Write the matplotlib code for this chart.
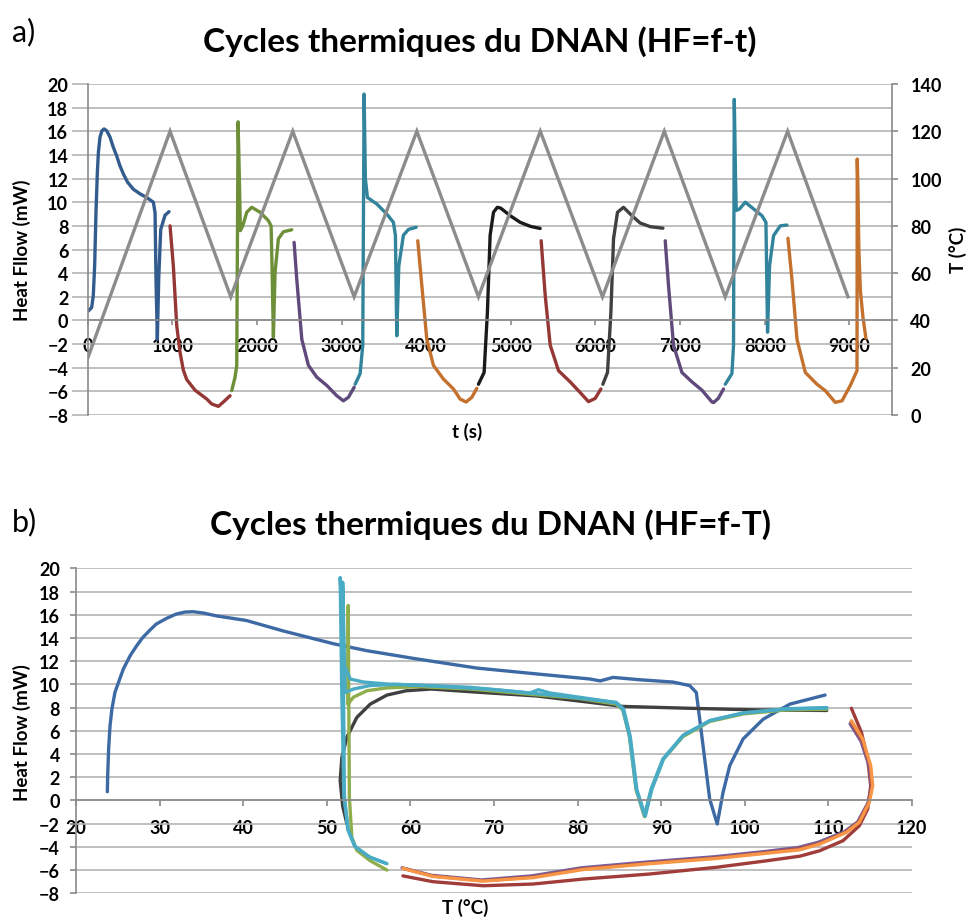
import matplotlib
matplotlib.use("Agg")
import matplotlib.pyplot as plt

plt.rcParams["font.family"] = ["Lato", "DejaVu Sans"]

# ---------------- a) HF = f(t) ----------------
# heating / cooling segments, time in s, heat flow in mW
blue1_t = [7, 47, 66, 82, 98, 114, 126, 145, 169, 193, 224, 264, 300, 343, 380, 421, 470, 539, 620, 697, 776,
           796, 807, 823, 839, 863, 914, 961]
blue1_hf = [0.8, 1.1, 2.1, 4.6, 9.2, 12.5, 14.2, 15.5, 16.05, 16.2, 16.05, 15.5, 14.7, 13.9, 13.1, 12.4, 11.7,
            11.1, 10.7, 10.4, 10.0, 9.1, 3.5, -1.6, 3.5, 7.7, 8.9, 9.2]

red1_t = [973, 1012, 1052, 1091, 1130, 1170, 1268, 1407, 1466, 1544, 1603, 1682]
red1_hf = [8.0, 4.6, -0.45, -2.7, -4.2, -5.0, -5.9, -6.65, -7.07, -7.27, -6.9, -6.37]

green1_t = [1702, 1741, 1761, 1777, 1792, 1804, 1832, 1879, 1938, 2037, 2135, 2167, 2178, 2194, 2214, 2253, 2312, 2411]
green1_hf = [-5.94, -4.8, -3.8, 16.8, 12.0, 7.6, 8.0, 9.15, 9.57, 9.15, 8.44, 8.0, 4.6, -1.4, 4.1, 6.9, 7.5, 7.67]

purple1_t = [2439, 2470, 2530, 2608, 2707, 2825, 2943, 3021, 3081, 3148]
purple1_hf = [6.6, 3.5, -1.6, -3.8, -4.8, -5.5, -6.37, -6.8, -6.5, -5.66]

teal1_t = [3160, 3219, 3250, 3266, 3281, 3305, 3416, 3534, 3612, 3636, 3652, 3676, 3730, 3790, 3881]
teal1_hf = [-5.4, -4.5, -2.1, 19.15, 12.0, 10.4, 9.85, 9.0, 8.3, 7.2, -1.3, 4.6, 7.2, 7.7, 7.88]

orange1_t = [3900, 3948, 4007, 4085, 4203, 4322, 4400, 4471, 4539, 4598]
orange1_hf = [6.74, 2.95, -1.6, -3.8, -4.96, -5.8, -6.65, -6.9, -6.5, -5.74]

black1_t = [4617, 4684, 4723, 4755, 4795, 4840, 4880, 4992, 5110, 5230, 5346]
black1_hf = [-5.4, -4.4, 0.7, 7.2, 9.15, 9.57, 9.5, 8.86, 8.3, 7.96, 7.78]

red2_t = [5358, 5406, 5465, 5563, 5701, 5819, 5917, 5996, 6064]
red2_hf = [6.74, 2.1, -2.1, -4.25, -5.2, -6.1, -6.87, -6.6, -5.8]

gray2_t = [6087, 6142, 6182, 6213, 6260, 6331, 6430, 6528, 6647, 6797]
gray2_hf = [-5.4, -4.4, 0.7, 6.9, 9.15, 9.57, 8.86, 8.24, 7.93, 7.8]

purple2_t = [6824, 6863, 6922, 7021, 7140, 7258, 7376, 7395, 7450, 7513]
purple2_hf = [6.74, 2.94, -2.1, -4.4, -5.2, -5.9, -6.9, -6.95, -6.6, -5.8]

teal2_t = [7533, 7612, 7631, 7640, 7655, 7663, 7702, 7770, 7868, 7967, 8014, 8033, 8057, 8104, 8183, 8262]
teal2_hf = [-5.4, -4.5, -2.1, 18.7, 12.0, 9.3, 9.43, 10.0, 9.43, 8.86, 8.3, -1.0, 4.63, 7.17, 8.0, 8.07]

orange2_t = [8274, 8321, 8381, 8479, 8617, 8715, 8833, 8913, 9011, 9090, 9093, 9100, 9112, 9130, 9160, 9195]
orange2_hf = [6.95, 3.5, -1.6, -4.4, -5.4, -5.94, -6.93, -6.8, -5.5, -4.25, 13.65, 11.5, 6.0, 2.5, 0.3, -1.5]

# programmed temperature (right axis, degC)
temp_t = [0, 973, 1690, 2423, 3148, 3889, 4617, 5348, 6083, 6813, 7533, 8270, 8983]
temp_T = [24, 120, 50, 120, 50, 120, 50, 120, 50, 120, 50, 120, 50]

# ---------------- b) HF = f(T) ----------------
blueb_T = [23.75, 23.79, 23.9, 24.07, 24.3, 24.66, 25.1, 25.66, 26.5, 27.26, 28.0, 28.85, 29.6, 30.84, 32.0, 33.03,
           34.0, 35.2, 36.8, 40.4, 44.8, 50.8, 54.8, 60.7, 68.0, 75.1,
           81.5, 82.7, 84.25, 87.4, 91.4, 93.4, 94.2, 94.8, 95.8, 96.7, 97.4, 98.2, 99.8, 102.2, 105.4, 109.6]
blueb_hf = [0.75, 2.13, 4.4, 6.44, 7.9, 9.31, 10.2, 11.32, 12.5, 13.33, 14.05, 14.68, 15.2, 15.69, 16.06, 16.23,
            16.26, 16.15, 15.9, 15.5, 14.6, 13.5, 12.9, 12.2, 11.4, 10.9,
            10.46, 10.3, 10.6, 10.4, 10.2, 9.9, 9.3, 5.9, 0.12, -2.03, 0.7, 3.0, 5.3, 7.0, 8.3, 9.08]

grayb_T = [52.4, 51.9, 51.6, 51.8, 52.4, 53.6, 55.2, 57.2, 59.5, 62.5, 67.5, 75.1, 81.5, 85.4, 93.4, 101.4, 109.8]
grayb_hf = [-2.0, -0.5, 1.7, 3.7, 5.44, 7.16, 8.3, 9.08, 9.45, 9.6, 9.35, 9.0, 8.45, 8.1, 7.94, 7.8, 7.75]

greenb_T = [57.2, 55.2, 53.6, 53.0, 52.7, 52.56, 52.5, 53.2, 54.8, 57.2, 61.1, 67.1, 74.3, 80.0, 84.6, 85.4, 86.2,
            87.0, 88.0, 88.8, 90.2, 92.6, 95.8, 99.8, 105.0, 109.8]
greenb_hf = [-6.0, -5.2, -4.3, -3.2, 0.27, 16.8, 8.3, 8.9, 9.45, 9.7, 9.8, 9.6, 9.15, 8.8, 8.3, 7.8, 5.5,
             0.9, -1.4, 0.9, 3.5, 5.5, 6.8, 7.45, 7.8, 7.85]

cyan1b_T = [57.2, 55.2, 53.4, 52.6, 52.05, 51.8, 51.6, 52.05, 52.8, 54.4, 57.2, 62.3, 67.1, 74.3, 75.3, 76.7, 83.0,
            84.6, 85.4, 86.2, 87.0, 88.0, 88.8, 90.2, 92.6, 95.8, 99.8, 105.0, 109.8]
cyan1b_hf = [-5.45, -4.9, -4.0, -2.6, 0.27, 8.9, 19.2, 11.75, 10.46, 10.2, 10.03, 9.9, 9.75, 9.26, 9.54, 9.26, 8.6,
             8.4, 7.88, 5.6, 1.0, -1.3, 1.0, 3.57, 5.6, 6.87, 7.53, 7.88, 7.96]

cyan2b_T = [57.0, 55.0, 53.3, 52.5, 52.1, 51.9, 52.2, 53.2, 55.2, 58.4, 63.0, 70.0, 78.0, 84.6, 85.5, 86.3, 87.1,
            88.1, 88.9, 90.3, 92.7, 95.9, 99.9, 105.0, 109.8]
cyan2b_hf = [-5.4, -4.85, -3.9, -2.5, 0.5, 18.8, 9.3, 9.6, 9.9, 10.0, 9.85, 9.55, 9.0, 8.45, 7.9, 5.5, 0.9,
             -1.35, 1.0, 3.6, 5.65, 6.9, 7.55, 7.9, 8.0]

redlowb_T = [112.75, 113.95, 114.7, 115.06, 114.7, 113.7, 111.75, 108.97, 106.6, 102.6, 96.6, 88.6, 80.7, 74.7, 68.7, 62.7, 59.1]
redlowb_hf = [7.94, 5.87, 3.57, 1.27, -0.74, -2.18, -3.47, -4.33, -4.8, -5.2, -5.76, -6.34, -6.77, -7.2, -7.35, -7.0, -6.5]

purpleb_T = [112.6, 113.9, 114.9, 115.15, 114.75, 113.5, 111.9, 108.8, 106.4, 102.4, 96.4, 88.4, 80.5, 74.5, 68.5, 62.5, 59.0]
purpleb_hf = [6.6, 5.1, 2.9, 1.2, -0.2, -1.85, -2.7, -3.6, -4.05, -4.4, -4.85, -5.3, -5.8, -6.5, -6.85, -6.45, -5.8]

redupb_T = [112.7, 114.0, 115.0, 115.2, 114.8, 113.6, 112.0, 108.9, 106.5, 102.5, 96.5, 88.5, 80.6, 74.6, 68.6, 62.6, 59.1]
redupb_hf = [6.75, 5.2, 2.95, 1.25, -0.2, -1.9, -2.75, -3.7, -4.15, -4.5, -4.95, -5.4, -5.9, -6.6, -6.92, -6.5, -5.85]

orangeb_T = [112.75, 114.1, 115.06, 115.3, 114.9, 113.7, 112.15, 109.0, 106.6, 102.6, 96.6, 88.6, 80.7, 74.7, 68.7, 62.7, 59.1]
orangeb_hf = [6.87, 5.3, 3.0, 1.27, -0.16, -1.88, -2.75, -3.75, -4.25, -4.55, -5.0, -5.45, -5.95, -6.65, -6.95, -6.55, -5.85]

AXC = "#8a8a8a"
GRIDC = "#b4b4b4"
TICK_FS = 13
LABEL_FS = 13.5
TITLE_FS = 24

fig = plt.figure(figsize=(9.67, 9.2), dpi=100)

# ---- chart a ----
ax = fig.add_axes([87.7 / 967, 1 - 416 / 920, 804 / 967, 331 / 920])
series_a = [
    (blue1_t, blue1_hf, "#335c8e"),
    (red1_t, red1_hf, "#953735"),
    (green1_t, green1_hf, "#6d8f38"),
    (purple1_t, purple1_hf, "#5f4a7b"),
    (teal1_t, teal1_hf, "#31849b"),
    (orange1_t, orange1_hf, "#c4712d"),
    (black1_t, black1_hf, "#1a1a1a"),
    (red2_t, red2_hf, "#953735"),
    (gray2_t, gray2_hf, "#404040"),
    (purple2_t, purple2_hf, "#5f4a7b"),
    (teal2_t, teal2_hf, "#31849b"),
    (orange2_t, orange2_hf, "#c4712d"),
]
for t, hf, c in series_a:
    ax.plot(t, hf, color=c, lw=2.4, solid_joinstyle="round", solid_capstyle="round")

ax.set_xlim(0, 9500)
ax.set_ylim(-8, 20)
ax.set_yticks(range(-8, 21, 2))
ax.set_xticks(range(0, 9001, 1000))
ax.yaxis.grid(True, color=GRIDC, lw=1.2)
ax.set_axisbelow(True)
ax.spines["bottom"].set_position(("data", 0))
ax.spines["top"].set_visible(False)
ax.spines["right"].set_visible(False)
for s in ("left", "bottom"):
    ax.spines[s].set_color(AXC)
    ax.spines[s].set_linewidth(1.2)
ax.tick_params(axis="y", length=11.5, width=1.2, color=GRIDC, pad=2.5, labelsize=TICK_FS)
ax.tick_params(axis="x", length=3.6, width=1.2, color=AXC, pad=8, labelsize=TICK_FS)
for lab in ax.get_xticklabels() + ax.get_yticklabels():
    lab.set_fontweight("bold")

ax2 = ax.twinx()
ax2.plot(temp_t, temp_T, color="#8c8c8c", lw=2.4, solid_joinstyle="miter")
ax2.set_ylim(0, 140)
ax2.set_yticks(range(0, 141, 20))
for s in ("left", "bottom", "top"):
    ax2.spines[s].set_visible(False)
ax2.spines["right"].set_color(AXC)
ax2.spines["right"].set_linewidth(1.2)
ax2.tick_params(axis="y", length=4.5, width=1.2, color=AXC, pad=9, labelsize=TICK_FS)
for lab in ax2.get_yticklabels():
    lab.set_fontweight("bold")

fig.text(12 / 967, 1 - 32 / 920, "a)", fontsize=22, ha="left", va="center")
fig.text(480 / 967, 1 - 42 / 920, "Cycles thermiques du DNAN (HF=f-t)", fontsize=TITLE_FS,
         fontweight="bold", ha="center", va="center")
fig.text(22 / 967, 1 - 250 / 920, "Heat Fllow (mW)", rotation=90, fontsize=LABEL_FS,
         fontweight="bold", ha="center", va="center")
fig.text(958 / 967, 1 - 250 / 920, "T (°C)", rotation=90, fontsize=LABEL_FS,
         fontweight="bold", ha="center", va="center")
fig.text(467 / 967, 1 - 432 / 920, "t (s)", fontsize=LABEL_FS, fontweight="bold",
         ha="center", va="center")

# ---- chart b ----
bx = fig.add_axes([76 / 967, 1 - 894.3 / 920, 836 / 967, 325 / 920])
series_b = [
    (blueb_T, blueb_hf, "#3d69a5"),
    (grayb_T, grayb_hf, "#404040"),
    (greenb_T, greenb_hf, "#8fad4a"),
    (cyan2b_T, cyan2b_hf, "#4aabc5"),
    (cyan1b_T, cyan1b_hf, "#4aabc5"),
    (redlowb_T, redlowb_hf, "#a03c39"),
    (purpleb_T, purpleb_hf, "#7460a0"),
    (redupb_T, redupb_hf, "#b0504a"),
    (orangeb_T, orangeb_hf, "#f79646"),
]
for T, hf, c in series_b:
    bx.plot(T, hf, color=c, lw=2.4, solid_joinstyle="round", solid_capstyle="round")

bx.set_xlim(20, 120)
bx.set_ylim(-8, 20)
bx.set_yticks(range(-8, 21, 2))
bx.set_xticks(range(20, 121, 10))
bx.yaxis.grid(True, color=GRIDC, lw=1.2)
bx.set_axisbelow(True)
bx.spines["bottom"].set_position(("data", 0))
bx.spines["top"].set_visible(False)
bx.spines["right"].set_visible(False)
for s in ("left", "bottom"):
    bx.spines[s].set_color(AXC)
    bx.spines[s].set_linewidth(1.2)
bx.tick_params(axis="y", length=4.5, width=1.2, color=AXC, pad=7, labelsize=TICK_FS)
bx.tick_params(axis="x", length=4.5, width=1.2, color=AXC, pad=9, labelsize=TICK_FS)
for lab in bx.get_xticklabels() + bx.get_yticklabels():
    lab.set_fontweight("bold")

fig.text(12 / 967, 1 - 522 / 920, "b)", fontsize=22, ha="left", va="center")
fig.text(490 / 967, 1 - 525 / 920, "Cycles thermiques du DNAN (HF=f-T)", fontsize=TITLE_FS,
         fontweight="bold", ha="center", va="center")
fig.text(22 / 967, 1 - 733 / 920, "Heat Flow (mW)", rotation=90, fontsize=LABEL_FS,
         fontweight="bold", ha="center", va="center")
fig.text(465 / 967, 1 - 908 / 920, "T (°C)", fontsize=LABEL_FS, fontweight="bold",
         ha="center", va="center")

fig.savefig("out.png", dpi=100)
